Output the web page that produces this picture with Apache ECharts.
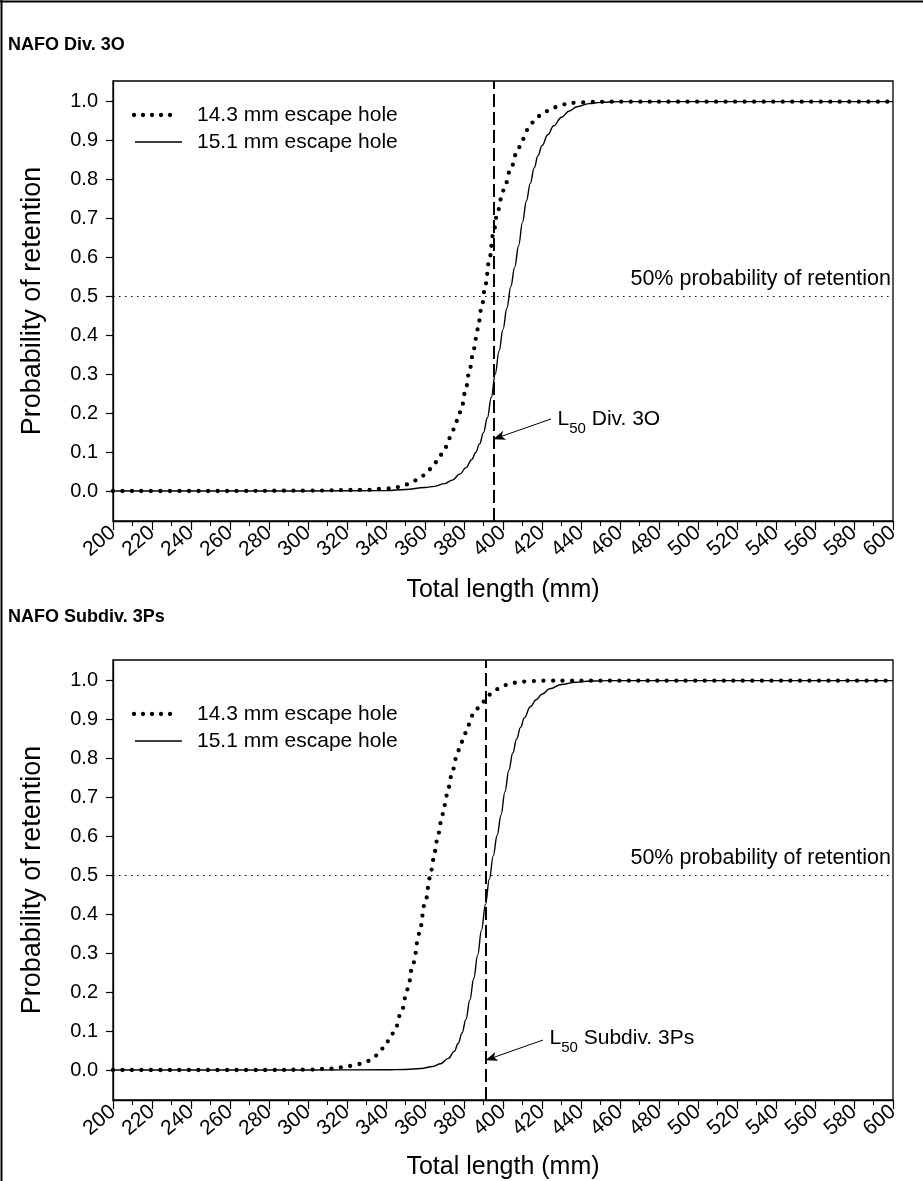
<!DOCTYPE html>
<html><head><meta charset="utf-8">
<script src="https://cdn.jsdelivr.net/npm/echarts@6/dist/echarts.min.js"></script>
<style>html,body{margin:0;padding:0;background:#fff}#c{width:923px;height:1181px}</style>
</head><body><div id="c"></div>
<script>
// ---- data ----
const panelTitles = ['NAFO Div. 3O', 'NAFO Subdiv. 3Ps'];
const seriesNames = ['14.3 mm escape hole', '15.1 mm escape hole'];
const yTickValues = [0, 0.1, 0.2, 0.3, 0.4, 0.5, 0.6, 0.7, 0.8, 0.9, 1.0];
const retentionLevel = 0.5;
const retentionLabel = '50% probability of retention';
const l50Values = [395, 391];
const l50Names = ['Div. 3O', 'Subdiv. 3Ps'];

// Panel 1 (Div. 3O)
const xTop143 = [200, 250, 300, 330, 340, 346, 351, 356, 360, 364, 367, 370, 373, 375, 377, 379, 381, 383, 385, 387, 389, 391, 393, 395, 397, 399, 401, 404, 407, 410, 413, 416, 419, 422, 426, 431, 437, 445, 455, 500, 600];
const yTop143 = [0, 0, 0.001, 0.003, 0.006, 0.01, 0.017, 0.028, 0.041, 0.062, 0.084, 0.109, 0.137, 0.16, 0.187, 0.22, 0.265, 0.315, 0.365, 0.415, 0.47, 0.53, 0.595, 0.66, 0.71, 0.75, 0.785, 0.828, 0.868, 0.903, 0.93, 0.95, 0.964, 0.975, 0.985, 0.993, 0.997, 0.999, 1.0, 1.0, 1.0];
const xTop151 = [200, 300, 340, 350, 360, 365, 370, 374, 378, 381, 384, 386, 388, 390, 392, 394, 396, 398, 400, 402, 404, 406, 408, 410, 412, 414, 416, 418, 420, 423, 426, 430, 434, 438, 444, 450, 460, 500, 600];
const yTop151 = [0, 0, 0.001, 0.004, 0.009, 0.012, 0.019, 0.028, 0.044, 0.06, 0.081, 0.099, 0.121, 0.15, 0.188, 0.24, 0.3, 0.36, 0.415, 0.47, 0.525, 0.575, 0.63, 0.69, 0.745, 0.79, 0.83, 0.862, 0.887, 0.915, 0.938, 0.96, 0.976, 0.987, 0.995, 0.998, 1.0, 1.0, 1.0];

// Panel 2 (Subdiv. 3Ps)
const xBot143 = [200, 280, 300, 310, 318, 324, 330, 335, 339, 342, 345, 348, 351, 354, 357, 360, 362.6, 364.3, 366.2, 368.2, 370, 372, 374, 376, 378, 380, 382, 385, 389, 393, 397, 402, 407, 412, 420, 500, 600];
const yBot143 = [0, 0, 0.001, 0.003, 0.007, 0.012, 0.022, 0.037, 0.057, 0.08, 0.11, 0.152, 0.207, 0.275, 0.35, 0.428, 0.494, 0.54, 0.589, 0.636, 0.68, 0.725, 0.766, 0.801, 0.83, 0.858, 0.885, 0.915, 0.943, 0.964, 0.978, 0.989, 0.995, 0.998, 1, 1, 1];
const xBot151 = [200, 300, 340, 350, 358, 364, 368, 372, 375, 377, 379, 381, 383, 385, 387, 389, 391, 393, 395, 397, 399, 401, 403, 405, 407, 409, 411, 414, 417, 420, 424, 430, 437, 445, 455, 500, 600];
const yBot151 = [0, 0, 0.0005, 0.0015, 0.004, 0.009, 0.016, 0.03, 0.048, 0.068, 0.095, 0.13, 0.18, 0.235, 0.295, 0.36, 0.425, 0.49, 0.55, 0.603, 0.655, 0.715, 0.77, 0.814, 0.85, 0.88, 0.905, 0.933, 0.951, 0.965, 0.979, 0.99, 0.996, 0.999, 1, 1, 1];

const panelX = [[xTop143, xTop151], [xBot143, xBot151]];
const panelY = [[yTop143, yTop151], [yBot143, yBot151]];

// annotation anchor points (data coordinates)
const arrowFrom = [[424.6, 0.185], [420.5, 0.077]];
const arrowTo = [[395, 0.133], [391, 0.025]];
const textAt = [[427.7, 0.184], [423.6, 0.081]];

// ---- layout ----
const FONT = '"Liberation Sans", Arial, sans-serif';
const grids = [
  { left: 113, top: 81, width: 780, height: 440 },
  { left: 113, top: 660, width: 780, height: 440 }
];
const nameGaps = [57, 55];
const legendRows = [[115, 142], [714, 741]];
const titleY = [45, 617];

function pairs(xs, ys) { return xs.map((x, i) => [x, ys[i]]); }

const option = {
  animation: false,
  backgroundColor: '#fff',
  textStyle: { fontFamily: FONT, color: '#000' },
  grid: grids.map(g => Object.assign({ show: true, borderColor: '#000', borderWidth: 1.3, backgroundColor: 'transparent' }, g)),
  xAxis: grids.map((g, i) => ({
    type: 'value', gridIndex: i, min: 200, max: 600, interval: 20,
    name: 'Total length (mm)', nameLocation: 'middle', nameGap: nameGaps[i],
    nameTextStyle: { fontSize: 25, color: '#000', fontFamily: FONT },
    axisLine: { show: true, onZero: false, lineStyle: { color: '#000', width: 1.3 } },
    axisTick: { show: true, inside: false, length: 9, lineStyle: { color: '#000', width: 1.2 } },
    minorTick: { show: true, splitNumber: 2, length: 5, lineStyle: { color: '#000', width: 1 } },
    axisLabel: { show: true, rotate: 40, fontSize: 21, margin: 9, color: '#000', fontFamily: FONT },
    splitLine: { show: false }, minorSplitLine: { show: false }
  })),
  yAxis: grids.map((g, i) => ({
    type: 'value', gridIndex: i, min: -0.077, max: 1.053,
    name: 'Probability of retention', nameLocation: 'middle', nameGap: 67, nameRotate: 90,
    nameTextStyle: { fontSize: 27, color: '#000', fontFamily: FONT },
    axisLine: { show: true, onZero: false, lineStyle: { color: '#000', width: 1.3 } },
    axisTick: { show: true, inside: false, length: 7, customValues: yTickValues, lineStyle: { color: '#000', width: 1.2 } },
    axisLabel: { show: true, fontSize: 20, margin: 15, color: '#000', fontFamily: FONT,
      customValues: yTickValues, formatter: v => v.toFixed(1) },
    splitLine: { show: false }
  })),
  series: [],
  graphic: []
};

for (let p = 0; p < 2; p++) {
  // dotted 14.3 mm
  option.series.push({
    name: seriesNames[0], type: 'line', xAxisIndex: p, yAxisIndex: p,
    data: pairs(panelX[p][0], panelY[p][0]),
    showSymbol: false, symbol: 'none', smooth: 0.4, smoothMonotone: 'x', silent: true, z: 3,
    lineStyle: { color: '#000', width: 4.3, type: [0, 9.5], cap: 'round' },
    markLine: {
      silent: true, symbol: ['none', 'none'], animation: false,
      data: [
        { yAxis: retentionLevel,
          lineStyle: { color: '#000', width: 1.2, type: [1.5, 4.5] },
          label: { show: true, position: 'insideEndTop', distance: [2, 6], formatter: retentionLabel,
            fontSize: 21.5, color: '#000', fontFamily: FONT } },
        { xAxis: l50Values[p],
          lineStyle: { color: '#000', width: 2, type: [13, 5] },
          label: { show: false } }
      ]
    }
  });
  // solid 15.1 mm
  option.series.push({
    name: seriesNames[1], type: 'line', xAxisIndex: p, yAxisIndex: p,
    data: pairs(panelX[p][1], panelY[p][1]),
    showSymbol: false, symbol: 'none', smooth: 0.4, smoothMonotone: 'x', silent: true, z: 3,
    lineStyle: { color: '#000', width: 1.4 },
    markLine: {
      silent: true, animation: false, symbol: ['none', 'arrow'], symbolSize: [7, 12],
      lineStyle: { color: '#000', width: 1, type: 'solid' },
      label: { show: false },
      data: [[{ coord: arrowFrom[p] }, { coord: arrowTo[p] }]]
    },
    markPoint: {
      silent: true, animation: false,
      data: [{
        coord: textAt[p], symbol: 'circle', symbolSize: 1, itemStyle: { color: 'rgba(0,0,0,0)' },
        label: {
          show: true, position: 'right', distance: 0,
          formatter: '{a|L}{s|50}{a| ' + l50Names[p] + '}',
          rich: {
            a: { fontSize: 21, color: '#000', fontFamily: FONT, lineHeight: 34, verticalAlign: 'middle' },
            s: { fontSize: 15, color: '#000', fontFamily: FONT, verticalAlign: 'bottom' }
          }
        }
      }]
    }
  });

  // legend (drawn manually)
  const [r1, r2] = legendRows[p];
  option.graphic.push(
    { type: 'line', shape: { x1: 134, y1: r1, x2: 179, y2: r1 },
      style: { stroke: '#000', lineWidth: 4.3, lineDash: [0, 9], lineCap: 'round' } },
    { type: 'text', x: 197, y: r1, style: { text: seriesNames[0], font: '21px ' + FONT, fill: '#000', textVerticalAlign: 'middle' } },
    { type: 'line', shape: { x1: 135, y1: r2, x2: 182, y2: r2 }, style: { stroke: '#000', lineWidth: 1.4 } },
    { type: 'text', x: 197, y: r2, style: { text: seriesNames[1], font: '21px ' + FONT, fill: '#000', textVerticalAlign: 'middle' } },
    { type: 'text', x: 8, y: titleY[p], style: { text: panelTitles[p], font: 'bold 18px ' + FONT, fill: '#000', textVerticalAlign: 'middle' } }
  );
}
// outer frame (top and left edges)
option.graphic.push(
  { type: 'line', shape: { x1: 0, y1: 1.5, x2: 923, y2: 1.5 }, style: { stroke: '#000', lineWidth: 2 } },
  { type: 'line', shape: { x1: 1.5, y1: 0, x2: 1.5, y2: 1181 }, style: { stroke: '#000', lineWidth: 2 } }
);

const chart = echarts.init(document.getElementById('c'), null, { renderer: 'canvas' });
chart.setOption(option);
</script>
</body></html>
